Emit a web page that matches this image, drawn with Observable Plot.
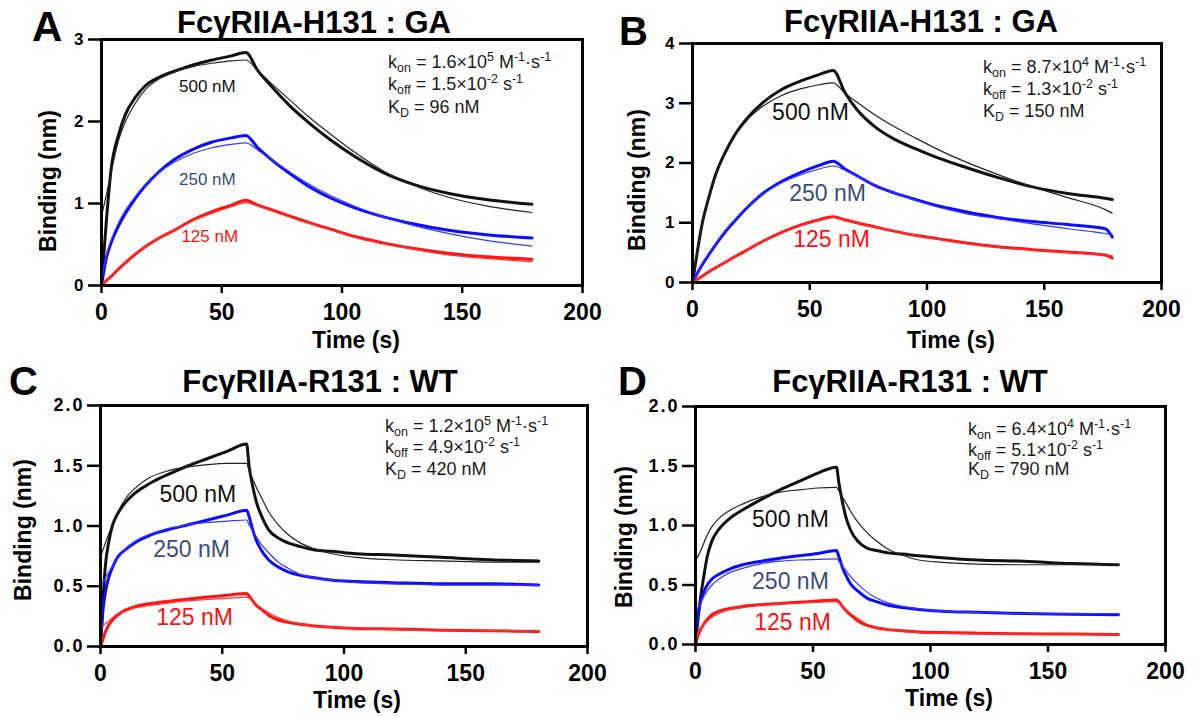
<!DOCTYPE html>
<html><head><meta charset="utf-8">
<script src="https://cdn.jsdelivr.net/npm/d3@7"></script>
<script src="https://cdn.jsdelivr.net/npm/@observablehq/plot@0.6"></script>
<style>
body{margin:0;background:#fff;}
#wrap{position:relative;width:1203px;height:717px;font-family:"Liberation Sans",Arial,sans-serif;overflow:hidden;background:#fff;}
.panel{position:absolute;}
.t{position:absolute;white-space:nowrap;color:#000;line-height:1;z-index:2;}
.title{font-weight:bold;font-size:31px;transform:translateX(-50%);}
.letter{font-weight:bold;}
.ylab{font-weight:bold;font-size:23px;transform:translate(-50%,-50%) rotate(-90deg);}
.xlab{font-weight:bold;font-size:23px;transform:translateX(-50%);}
.ann{font-size:18px;color:#1a1a1a;}
.ann sub,.ann sup{font-size:12.5px;vertical-align:baseline;position:relative;line-height:0;}
.ann sup{top:-0.55em;}
.ann sub{top:0.35em;}
.pl g[aria-label="x-axis tick label"]{font-size:23px;font-weight:bold;}
.pl g[aria-label="y-axis tick label"]{font-size:17px;font-weight:bold;}
.pl.cd g[aria-label="y-axis tick label"]{font-size:18px;letter-spacing:2px;}
</style>
</head><body>
<div id="wrap"></div>
<script>
// ---------- data ----------
const panelLetters = ["A","B","C","D"];
const panelTitles = ["FcγRIIA-H131 : GA","FcγRIIA-H131 : GA","FcγRIIA-R131 : WT","FcγRIIA-R131 : WT"];
const concLabels = ["500 nM","250 nM","125 nM"];
const xTicks = [0,50,100,150,200];
const yTicksAB = [[0,1,2,3],[0,1,2,3,4]];
const yTicksCD = [0,0.5,1.0,1.5,2.0];
const konMant = ["1.6×10","8.7×10","1.2×10","6.4×10"];
const konExp = ["5","4","5","4"];
const koffMant = ["1.5×10","1.3×10","4.9×10","5.1×10"];
const koffExp = ["-2","-2","-2","-2"];
const kdVals = ["96","150","420","790"];

// Panel A
const tA = [0,2,4,7,10,14,18,24,30,38,46,54,60,65,70,78,86,95,105,117,130,145,160,179];
const aData500 = [0,0.78,1.42,1.83,2.09,2.29,2.43,2.54,2.61,2.69,2.75,2.80,2.84,2.62,2.45,2.20,1.99,1.78,1.58,1.38,1.23,1.12,1.05,0.99];
const aFit500  = [0.85,1.10,1.38,1.76,2.00,2.22,2.38,2.52,2.60,2.67,2.71,2.74,2.75,2.62,2.48,2.27,2.06,1.85,1.63,1.40,1.22,1.07,0.97,0.89];
const aData250 = [0,0.33,0.52,0.72,0.88,1.06,1.21,1.39,1.53,1.66,1.75,1.80,1.83,1.68,1.55,1.37,1.21,1.07,0.95,0.84,0.75,0.67,0.62,0.58];
const aFit250  = [0.05,0.36,0.55,0.76,0.92,1.08,1.22,1.38,1.50,1.61,1.68,1.72,1.74,1.65,1.55,1.39,1.24,1.10,0.97,0.84,0.73,0.63,0.55,0.48];
const aData125 = [0,0.06,0.11,0.20,0.28,0.38,0.47,0.58,0.67,0.80,0.90,0.98,1.04,0.98,0.93,0.85,0.77,0.69,0.60,0.52,0.45,0.39,0.35,0.32];
const aFit125  = [0,0.06,0.12,0.21,0.29,0.39,0.48,0.58,0.67,0.79,0.88,0.96,1.01,0.97,0.92,0.84,0.76,0.68,0.59,0.51,0.44,0.37,0.33,0.29];
const aLabelT = [44,44,45];
const aLabelV = [2.43,1.29,0.60];

// Panel B
const tB = [0,2,4,7,10,14,18,24,30,38,46,54,60,65,70,78,86,95,105,117,130,145,160,176,179];
const bData500 = [0,0.50,0.96,1.43,1.82,2.18,2.47,2.78,3.01,3.23,3.37,3.48,3.55,3.18,2.90,2.60,2.40,2.24,2.08,1.92,1.76,1.60,1.49,1.41,1.39];
const bFit500  = [0.05,0.50,0.94,1.42,1.80,2.17,2.45,2.75,2.95,3.13,3.24,3.31,3.34,3.17,3.02,2.80,2.61,2.42,2.22,2.01,1.81,1.60,1.42,1.22,1.16];
const bData250 = [0,0.15,0.29,0.47,0.64,0.85,1.03,1.28,1.49,1.69,1.84,1.96,2.03,1.90,1.79,1.62,1.50,1.39,1.28,1.18,1.09,1.02,0.97,0.90,0.76];
const bFit250  = [0,0.15,0.30,0.49,0.66,0.87,1.05,1.29,1.48,1.67,1.80,1.90,1.95,1.88,1.78,1.63,1.50,1.38,1.26,1.15,1.07,0.98,0.90,0.82,0.80];
const bData125 = [0,0.05,0.10,0.18,0.25,0.34,0.43,0.56,0.69,0.84,0.96,1.05,1.10,1.05,1.00,0.93,0.86,0.79,0.73,0.66,0.60,0.55,0.51,0.46,0.41];
const bFit125  = [0,0.05,0.10,0.18,0.25,0.35,0.44,0.57,0.69,0.83,0.95,1.04,1.09,1.05,1.00,0.93,0.86,0.79,0.72,0.65,0.59,0.54,0.50,0.46,0.45];
const bLabelT = [50.3,57.6,59.3];
const bLabelV = [2.85,1.48,0.71];

// Panels C and D share a time grid
const tCD = [0,1,2,3.5,5,7,10,14,20,28,36,44,52,60,61,62.5,64,66,69,73,77,82,88,95,105,120,140,160,180];
const cData500 = [0,0.38,0.67,0.88,1.01,1.10,1.19,1.27,1.35,1.43,1.50,1.56,1.62,1.68,1.50,1.33,1.20,1.09,0.97,0.90,0.86,0.83,0.80,0.79,0.77,0.76,0.74,0.72,0.71];
const cFit500  = [0.75,0.80,0.86,0.94,1.02,1.11,1.22,1.31,1.40,1.46,1.49,1.51,1.52,1.52,1.46,1.39,1.32,1.24,1.12,1.01,0.93,0.86,0.81,0.77,0.74,0.72,0.71,0.70,0.70];
const cData250 = [0,0.30,0.45,0.58,0.66,0.74,0.80,0.86,0.92,0.97,1.01,1.05,1.09,1.13,1.08,0.97,0.88,0.80,0.72,0.66,0.62,0.59,0.57,0.55,0.54,0.53,0.52,0.52,0.51];
const cFit250  = [0.50,0.53,0.57,0.62,0.67,0.73,0.80,0.87,0.93,0.98,1.01,1.03,1.04,1.05,1.01,0.96,0.91,0.85,0.78,0.70,0.65,0.60,0.57,0.55,0.53,0.52,0.51,0.51,0.51];
const cData125 = [0,0.06,0.12,0.18,0.22,0.26,0.30,0.33,0.355,0.375,0.395,0.41,0.425,0.44,0.42,0.38,0.34,0.31,0.26,0.22,0.20,0.185,0.17,0.16,0.15,0.145,0.135,0.13,0.125];
const cFit125  = [0.15,0.17,0.19,0.21,0.24,0.27,0.29,0.32,0.34,0.36,0.38,0.39,0.40,0.41,0.40,0.38,0.35,0.32,0.28,0.24,0.21,0.19,0.17,0.16,0.15,0.14,0.135,0.13,0.13];
const cLabelT = [40.0,37.4,38.6];
const cLabelV = [1.26,0.805,0.24];

const dData500 = [0,0.20,0.37,0.57,0.74,0.87,0.97,1.05,1.13,1.22,1.30,1.37,1.44,1.49,1.36,1.20,1.07,0.96,0.87,0.81,0.79,0.77,0.76,0.745,0.73,0.71,0.70,0.68,0.67];
const dFit500  = [0.70,0.74,0.78,0.85,0.92,0.99,1.06,1.12,1.18,1.24,1.28,1.30,1.315,1.32,1.29,1.24,1.19,1.12,1.03,0.94,0.87,0.80,0.75,0.71,0.69,0.675,0.67,0.67,0.67];
const dData250 = [0,0.25,0.35,0.44,0.50,0.55,0.59,0.63,0.67,0.70,0.725,0.745,0.765,0.79,0.74,0.65,0.58,0.51,0.45,0.39,0.36,0.33,0.31,0.295,0.28,0.27,0.26,0.255,0.25];
const dFit250  = [0.25,0.30,0.34,0.40,0.45,0.50,0.55,0.60,0.64,0.68,0.70,0.71,0.715,0.72,0.70,0.66,0.62,0.57,0.51,0.44,0.39,0.35,0.32,0.30,0.28,0.27,0.26,0.26,0.26];
const dData125 = [0,0.07,0.12,0.17,0.21,0.25,0.28,0.30,0.32,0.335,0.345,0.355,0.365,0.375,0.36,0.32,0.285,0.25,0.20,0.16,0.14,0.125,0.115,0.105,0.10,0.095,0.09,0.088,0.085];
const dFit125  = [0.04,0.09,0.13,0.17,0.20,0.23,0.26,0.29,0.31,0.33,0.34,0.35,0.355,0.36,0.35,0.32,0.29,0.26,0.22,0.17,0.145,0.125,0.11,0.10,0.095,0.09,0.09,0.088,0.085];
const dLabelT = [40.4,40.4,41.3];
const dLabelV = [1.05,0.53,0.185];

// ---------- styling / layout ----------
const lineColors = ["#111111","#0b0bff","#ff1414"];
const fitColors = ["#222222","#3535ff","#ff3030"];
const labelColors = ["#111111","#3b4c7c","#ff1010"];
const FONT = "Liberation Sans, Arial, sans-serif";

const panels = [
  {left:0, top:0, width:620, height:330, mL:101, mR:38, mT:39, mB:45, yDomain:[0,3], yTicks:yTicksAB[0], fmt:d3.format("d"), cd:false,
   time:tA, data:[aData500,aData250,aData125], fit:[aFit500,aFit250,aFit125], lt:aLabelT, lv:aLabelV, lfs:17},
  {left:600, top:0, width:603, height:330, mL:92, mR:42, mT:43, mB:48, yDomain:[0,4], yTicks:yTicksAB[1], fmt:d3.format("d"), cd:false,
   time:tB, data:[bData500,bData250,bData125], fit:[bFit500,bFit250,bFit125], lt:bLabelT, lv:bLabelV, lfs:23},
  {left:0, top:340, width:620, height:377, mL:100, mR:33, mT:65, mB:71, yDomain:[0,2], yTicks:yTicksCD, fmt:d3.format(".1f"), cd:true,
   time:tCD, data:[cData500,cData250,cData125], fit:[cFit500,cFit250,cFit125], lt:cLabelT, lv:cLabelV, lfs:23},
  {left:600, top:340, width:603, height:377, mL:95, mR:38, mT:66, mB:73, yDomain:[0,2], yTicks:yTicksCD, fmt:d3.format(".1f"), cd:true,
   time:tCD, data:[dData500,dData250,dData125], fit:[dFit500,dFit250,dFit125], lt:dLabelT, lv:dLabelV, lfs:23}
];

const wrap = document.getElementById("wrap");

panels.forEach((p) => {
  const marks = [];
  p.data.forEach((arr, k) => {
    marks.push(Plot.line(p.time.map((t, i) => ({t, v: arr[i]})),
      {x: "t", y: "v", stroke: lineColors[k], strokeWidth: 3, curve: "monotone-x"}));
  });
  p.fit.forEach((arr, k) => {
    marks.push(Plot.line(p.time.map((t, i) => ({t, v: arr[i]})),
      {x: "t", y: "v", stroke: fitColors[k], strokeWidth: 1.2, curve: "monotone-x"}));
  });
  marks.push(Plot.text(concLabels.map((s, k) => ({s, t: p.lt[k], v: p.lv[k], k})),
    {x: "t", y: "v", text: "s", fill: (d) => labelColors[d.k], fontSize: p.lfs, fontWeight: "normal", textAnchor: "middle"}));
  marks.push(Plot.axisX({ticks: xTicks, tickSize: 8, tickPadding: 10, strokeWidth: 2.5, label: null, tickFormat: d3.format("d")}));
  marks.push(Plot.axisY({ticks: p.yTicks, tickSize: 13, tickPadding: p.cd ? 3 : 5, strokeWidth: 2.5, label: null, tickFormat: p.fmt}));
  marks.push(Plot.frame({strokeWidth: 3}));

  const svg = Plot.plot({
    width: p.width, height: p.height,
    marginLeft: p.mL, marginRight: p.mR, marginTop: p.mT, marginBottom: p.mB,
    x: {domain: [0, 200]}, y: {domain: p.yDomain},
    style: {background: "transparent", fontFamily: FONT, overflow: "visible", color: "#000"},
    marks
  });
  svg.classList.add("pl");
  if (p.cd) svg.classList.add("cd");
  const div = document.createElement("div");
  div.className = "panel";
  div.style.left = p.left + "px";
  div.style.top = p.top + "px";
  div.style.width = p.width + "px";
  div.appendChild(svg);
  wrap.appendChild(div);
});

// ---------- HTML texts ----------
function addText(cls, html, left, top, extra) {
  const d = document.createElement("div");
  d.className = "t " + cls;
  d.innerHTML = html;
  d.style.left = left + "px";
  d.style.top = top + "px";
  if (extra) Object.assign(d.style, extra);
  wrap.appendChild(d);
  return d;
}
const baseTop = (baseline, fs) => baseline - 0.8465 * fs;

const titlePos = [[314,33],[921,32],[320,392],[910,392]];
const letterPos = [[32,42,42],[619,45,40],[9,395,40],[618,395,40]];
const ylabPos = [[48,181],[637,180],[23,530],[624,537]];
const xlabPos = [[356,348],[951,348],[357,708],[949,706]];
const annPos = [[388,[68,90,113]],[983,[73,95,117]],[385,[432,453,475]],[968,[435,456,475]]];

panelLetters.forEach((L, i) => {
  addText("title", panelTitles[i], titlePos[i][0], baseTop(titlePos[i][1], 31));
  addText("letter", L, letterPos[i][0], baseTop(letterPos[i][1], letterPos[i][2]), {fontSize: letterPos[i][2] + "px"});
  addText("ylab", "Binding (nm)", ylabPos[i][0], ylabPos[i][1]);
  addText("xlab", "Time (s)", xlabPos[i][0], baseTop(xlabPos[i][1], 23));
  const [ax, bl] = annPos[i];
  addText("ann", `k<sub>on</sub> = ${konMant[i]}<sup>${konExp[i]}</sup> M<sup>-1</sup>·s<sup>-1</sup>`, ax, baseTop(bl[0], 18));
  addText("ann", `k<sub>off</sub> = ${koffMant[i]}<sup>${koffExp[i]}</sup> s<sup>-1</sup>`, ax, baseTop(bl[1], 18));
  addText("ann", `K<sub>D</sub> = ${kdVals[i]} nM`, ax, baseTop(bl[2], 18));
});
</script>
</body></html>
